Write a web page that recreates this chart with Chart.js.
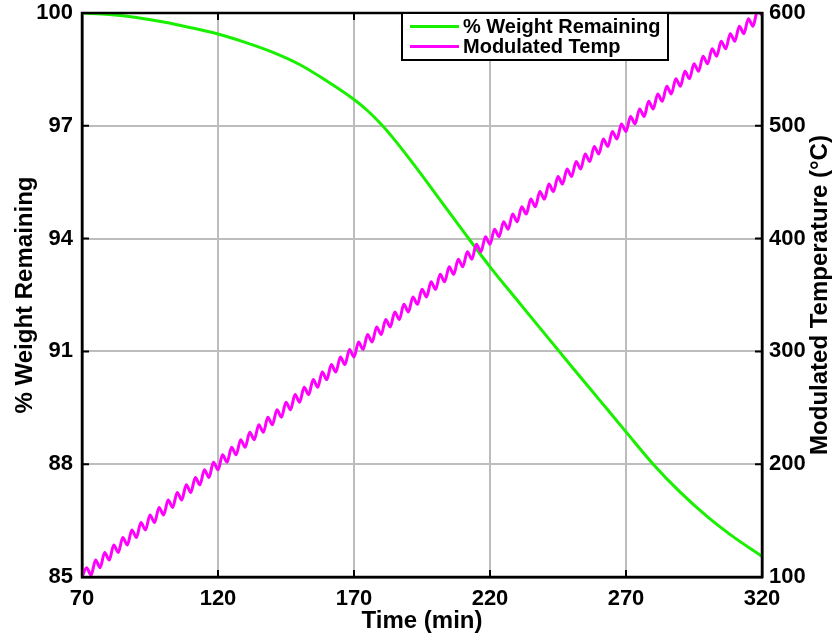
<!DOCTYPE html>
<html><head><meta charset="utf-8">
<script src="https://cdn.jsdelivr.net/npm/chart.js@4"></script>
<style>html,body{margin:0;padding:0;background:#fff}#wrap{width:833px;height:636px}</style>
</head><body><div id="wrap"><canvas id="c" width="833" height="636"></canvas></div>
<script>
// ---- data ----
const timeMin = [
 70,71.67,73.33,75,76.67,78.33, 80,81.67,83.33,85,86.67,88.33,
 90,91.67,93.33,95,96.67,98.33, 100,101.67,103.33,105,106.67,108.33,
 110,111.67,113.33,115,116.67,118.33, 120,121.67,123.33,125,126.67,128.33,
 130,131.67,133.33,135,136.67,138.33, 140,141.67,143.33,145,146.67,148.33,
 150,151.67,153.33,155,156.67,158.33, 160,161.67,163.33,165,166.67,168.33,
 170,171.67,173.33,175,176.67,178.33, 180,181.67,183.33,185,186.67,188.33,
 190,191.67,193.33,195,196.67,198.33, 200,201.67,203.33,205,206.67,208.33,
 210,211.67,213.33,215,216.67,218.33, 220,221.67,223.33,225,226.67,228.33,
 230,231.67,233.33,235,236.67,238.33, 240,241.67,243.33,245,246.67,248.33,
 250,251.67,253.33,255,256.67,258.33, 260,261.67,263.33,265,266.67,268.33,
 270,271.67,273.33,275,276.67,278.33, 280,281.67,283.33,285,286.67,288.33,
 290,291.67,293.33,295,296.67,298.33, 300,301.67,303.33,305,306.67,308.33,
 310,311.67,313.33,315,316.67,318.33, 320
];
const modTemp = [
 100,108.3,101.7,115,108.3,121.7, 115,128.3,121.7,135,128.3,141.7,
 135,148.3,141.7,155,148.3,161.7, 155,168.3,161.7,175,168.3,181.7,
 175,188.3,181.7,195,188.3,201.7, 195,208.3,201.7,215,208.3,221.7,
 215,228.3,221.7,235,228.3,241.7, 235,248.3,241.7,255,248.3,261.7,
 255,268.3,261.7,275,268.3,281.7, 275,288.3,281.7,295,288.3,301.7,
 295,308.3,301.7,315,308.3,321.7, 315,328.3,321.7,335,328.3,341.7,
 335,348.3,341.7,355,348.3,361.7, 355,368.3,361.7,375,368.3,381.7,
 375,388.3,381.7,395,388.3,401.7, 395,408.3,401.7,415,408.3,421.7,
 415,428.3,421.7,435,428.3,441.7, 435,448.3,441.7,455,448.3,461.7,
 455,468.3,461.7,475,468.3,481.7, 475,488.3,481.7,495,488.3,501.7,
 495,508.3,501.7,515,508.3,521.7, 515,528.3,521.7,535,528.3,541.7,
 535,548.3,541.7,555,548.3,561.7, 555,568.3,561.7,575,568.3,581.7,
 575,588.3,581.7,595,588.3,601.7, 598
];
const weightTime = [70,80,90,100,110,120,130,140,150,160,170,175,180,185,190,195,200,210,220,230,240,250,260,270,280,290,300,310,320];
const weightPct  = [100,99.96,99.88,99.76,99.61,99.44,99.22,98.96,98.63,98.19,97.7,97.4,97.04,96.62,96.16,95.68,95.19,94.21,93.25,92.36,91.48,90.6,89.73,88.86,88.0,87.25,86.6,86.04,85.55];

const xTicks = [70,120,170,220,270,320];
const leftTicks = [85,88,91,94,97,100];
const rightTicks = [100,200,300,400,500,600];

const seriesLabels = ['% Weight Remaining','Modulated Temp'];
const xTitle = 'Time (min)';
const leftTitle = '% Weight Remaining';
const rightTitle = 'Modulated Temperature (°C)';

// ---- chart ----
const FONT = '"Liberation Sans", Arial, Helvetica, sans-serif';
const GREEN = '#19f000', MAGENTA = '#ff00ff', GRID = '#bdbdbd';

const framePlugin = {
  id: 'frame',
  afterDraw(chart) {
    const {ctx, chartArea: a, scales} = chart;
    ctx.save();
    // inward tick marks
    ctx.strokeStyle = '#000'; ctx.lineWidth = 2;
    const L = 7;
    ctx.beginPath();
    xTicks.forEach(v => { const p = scales.x.getPixelForValue(v);
      ctx.moveTo(p, a.bottom); ctx.lineTo(p, a.bottom - L);
      ctx.moveTo(p, a.top); ctx.lineTo(p, a.top + L); });
    leftTicks.forEach(v => { const p = scales.y.getPixelForValue(v);
      ctx.moveTo(a.left, p); ctx.lineTo(a.left + L, p); });
    rightTicks.forEach(v => { const p = scales.y2.getPixelForValue(v);
      ctx.moveTo(a.right, p); ctx.lineTo(a.right - L, p); });
    ctx.stroke();
    // box
    ctx.lineWidth = 2.5;
    ctx.strokeRect(a.left, a.top, a.right - a.left, a.bottom - a.top);
    // legend
    const lx = 402, ly = a.top, lw = 266, lh = 47;
    ctx.fillStyle = '#fff'; ctx.fillRect(lx, ly, lw, lh);
    ctx.lineWidth = 2; ctx.strokeStyle = '#000'; ctx.strokeRect(lx, ly, lw, lh);
    ctx.font = 'bold 20px ' + FONT; ctx.textBaseline = 'middle'; ctx.textAlign = 'left';
    chart.data.datasets.forEach((ds, i) => {
      const yy = ly + 13.5 + i * 20;
      ctx.strokeStyle = ds.borderColor; ctx.lineWidth = 3;
      ctx.beginPath(); ctx.moveTo(lx + 8, yy); ctx.lineTo(lx + 57, yy); ctx.stroke();
      ctx.fillStyle = '#000'; ctx.fillText(ds.label, lx + 61, yy + 1);
    });
    // right axis title (reads bottom to top)
    ctx.font = 'bold 24px ' + FONT; ctx.textAlign = 'center'; ctx.textBaseline = 'middle';
    ctx.translate(820, (a.top + a.bottom) / 2);
    ctx.rotate(-Math.PI / 2);
    ctx.fillText(rightTitle, 0, 0);
    ctx.restore();
  }
};

const tickFont = {family: FONT, size: 22, weight: 'bold'};
const titleFont = {family: FONT, size: 24, weight: 'bold'};
const fitVertical = w => s => { s.width = w; s.paddingTop = 0; s.paddingBottom = 0; };

new Chart(document.getElementById('c'), {
  type: 'line',
  data: {
    datasets: [
      { label: seriesLabels[0], yAxisID: 'y', order: 1,
        data: weightTime.map((t, i) => ({x: t, y: weightPct[i]})),
        borderColor: GREEN, borderWidth: 3, pointRadius: 0, fill: false, cubicInterpolationMode: 'monotone' },
      { label: seriesLabels[1], yAxisID: 'y2', order: 0,
        data: timeMin.map((t, i) => ({x: t, y: modTemp[i]})),
        borderColor: MAGENTA, borderWidth: 3, pointRadius: 0, fill: false, cubicInterpolationMode: 'monotone' }
    ]
  },
  options: {
    responsive: false, animation: false,
    layout: { padding: { top: 13, left: 0, right: 0, bottom: 0 } },
    plugins: { legend: { display: false }, tooltip: { enabled: false } },
    scales: {
      x: { type: 'linear', position: 'bottom', min: 70, max: 320,
        afterBuildTicks: s => { s.ticks = xTicks.map(v => ({value: v})); },
        afterFit: s => { s.height = 59; s.paddingLeft = 0; s.paddingRight = 0; },
        grid: { color: GRID, lineWidth: 2, drawTicks: false },
        border: { color: '#000', width: 2.5 },
        ticks: { font: tickFont, color: '#000', padding: 9, maxRotation: 0, autoSkip: false },
        title: { display: true, text: xTitle, font: titleFont, color: '#000', padding: { top: 0, bottom: 0 } } },
      y: { type: 'linear', position: 'left', min: 85, max: 100,
        afterBuildTicks: s => { s.ticks = leftTicks.map(v => ({value: v})); },
        afterFit: fitVertical(82),
        grid: { color: GRID, lineWidth: 2, drawTicks: false },
        border: { color: '#000', width: 2.5 },
        ticks: { font: tickFont, color: '#000', padding: 9 },
        title: { display: true, text: leftTitle, font: titleFont, color: '#000', padding: { top: 11, bottom: 0 } } },
      y2: { type: 'linear', position: 'right', min: 100, max: 600,
        afterBuildTicks: s => { s.ticks = rightTicks.map(v => ({value: v})); },
        afterFit: fitVertical(71),
        grid: { drawOnChartArea: false, drawTicks: false },
        border: { color: '#000', width: 2.5 },
        ticks: { font: tickFont, color: '#000', padding: 7 },
        title: { display: false } }
    }
  },
  plugins: [framePlugin]
});
</script></body></html>
